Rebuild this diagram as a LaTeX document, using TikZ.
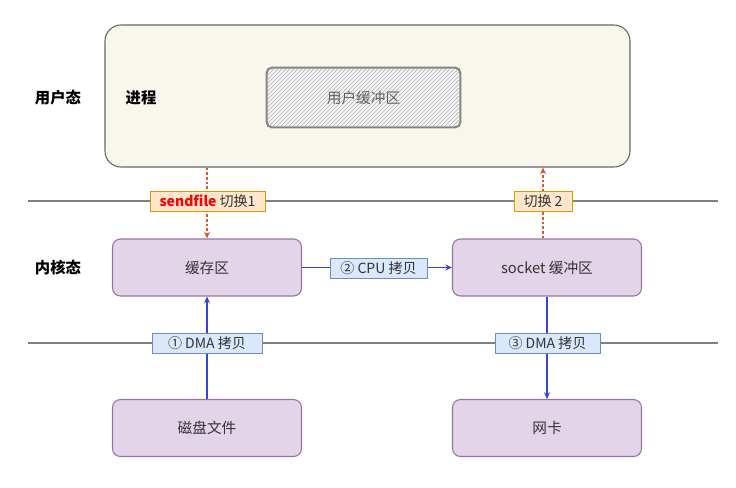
\documentclass[tikz,border=0pt]{standalone}
\usepackage{fontspec}
\setmainfont{Noto Sans CJK SC}
\usetikzlibrary{arrows.meta,patterns}
\definecolor{procfill}{HTML}{F9F7ED}
\definecolor{procdraw}{HTML}{666666}
\definecolor{kfill}{HTML}{E1D5E7}
\definecolor{kdraw}{HTML}{9673A6}
\definecolor{ofill}{HTML}{FFE6CC}
\definecolor{odraw}{HTML}{D79B00}
\definecolor{bfill}{HTML}{DAE8FC}
\definecolor{bdraw}{HTML}{6C8EBF}
\definecolor{sepline}{HTML}{808080}
\definecolor{darr}{HTML}{E0562A}
\definecolor{barr}{HTML}{3344DD}
\definecolor{txt}{HTML}{333333}
\tikzset{
  kbox/.style={draw=kdraw, fill=kfill, rounded corners=6pt, line width=0.8pt,
    minimum width=141.75pt, minimum height=42.75pt, inner sep=0pt,
    font=\fontsize{11}{13}\selectfont, text=txt},
  otag/.style={draw=odraw, fill=ofill, line width=0.7pt, inner sep=0pt,
    minimum height=15pt, font=\fontsize{10.5}{12}\selectfont, text=txt},
  btag/.style={draw=bdraw, fill=bfill, line width=0.7pt, inner sep=0pt,
    minimum height=15pt, font=\fontsize{10.5}{12}\selectfont, text=txt},
  lvl/.style={font=\fontsize{11.5}{13}\selectfont\bfseries, text=black},
  sep/.style={draw=sepline, line width=1.2pt},
  darrow/.style={draw=darr, line width=0.9pt, dash pattern=on 2pt off 1.5pt, -{Stealth[length=5pt,width=4.5pt]}},
  barrow/.style={draw=barr, line width=0.8pt, -{Stealth[length=5pt,width=4.5pt]}}
}
\begin{document}
\begin{tikzpicture}[x=0.75pt,y=-0.75pt]
\useasboundingbox (0,0) rectangle (736,487);
% separator lines
\coordinate (l1a) at (28,201); \coordinate (l1b) at (718,201);
\coordinate (l2a) at (28,343); \coordinate (l2b) at (718,343);
\draw[sep] (l1a) -- (l1b);
\draw[sep] (l2a) -- (l2b);
% process
\node[draw=procdraw, fill=procfill, rounded corners=12pt, line width=0.8pt,
  minimum width=393.75pt, minimum height=106.5pt] (proc) at (367.5,96) {};
\node[draw=procdraw!80, line width=1pt, rounded corners=4pt, fill=white!96!black,
  minimum width=144.75pt, minimum height=44.25pt, inner sep=0pt] (ubuf) at (363.5,97.5) {};
\fill[pattern=north east lines, pattern color=black!30, rounded corners=4pt]
  (ubuf.south west) rectangle (ubuf.north east);
\draw[draw=procdraw!80, line width=1pt, rounded corners=4pt]
  (ubuf.south west) rectangle (ubuf.north east);
\node[font=\fontsize{11}{13}\selectfont, text=black!62] (ubuft) at (ubuf.center) {用户缓冲区};
\node[lvl] (usr) at (58,98) {用户态};
\node[lvl] (jc) at (141,98) {进程};
\node[lvl] (ker) at (58,268) {内核态};
% kernel boxes
\node[kbox] (cache) at (207,267.5) {缓存区};
\node[kbox] (sock) at (547,267.5) {socket 缓冲区};
\node[kbox] (disk) at (207,428) {磁盘文件};
\node[kbox] (nic) at (547,428) {网卡};
% arrows
\draw[darrow] (proc.south -| cache.north) -- (cache.north);
\draw[darrow] (sock.north -| 543,0) -- (proc.south -| 543,0);
\draw[barrow] (disk.north) -- (cache.south);
\draw[barrow] (cache.east) -- (sock.west);
\draw[barrow] (sock.south) -- (nic.north);
% tags
\node[otag, minimum width=86.25pt] (t1) at (207.5,201) {\textcolor{red}{\bfseries sendfile} 切换1};
\node[otag, minimum width=43.5pt] (t2) at (543,201) {切换 2};
\node[btag, minimum width=82.5pt] (d1) at (207,343) {① DMA 拷贝};
\node[btag, minimum width=78.75pt] (d3) at (547.5,343) {③ DMA 拷贝};
\node[btag, minimum width=72.75pt] (c2) at (378.5,268) {② CPU 拷贝};
\end{tikzpicture}
\end{document}
